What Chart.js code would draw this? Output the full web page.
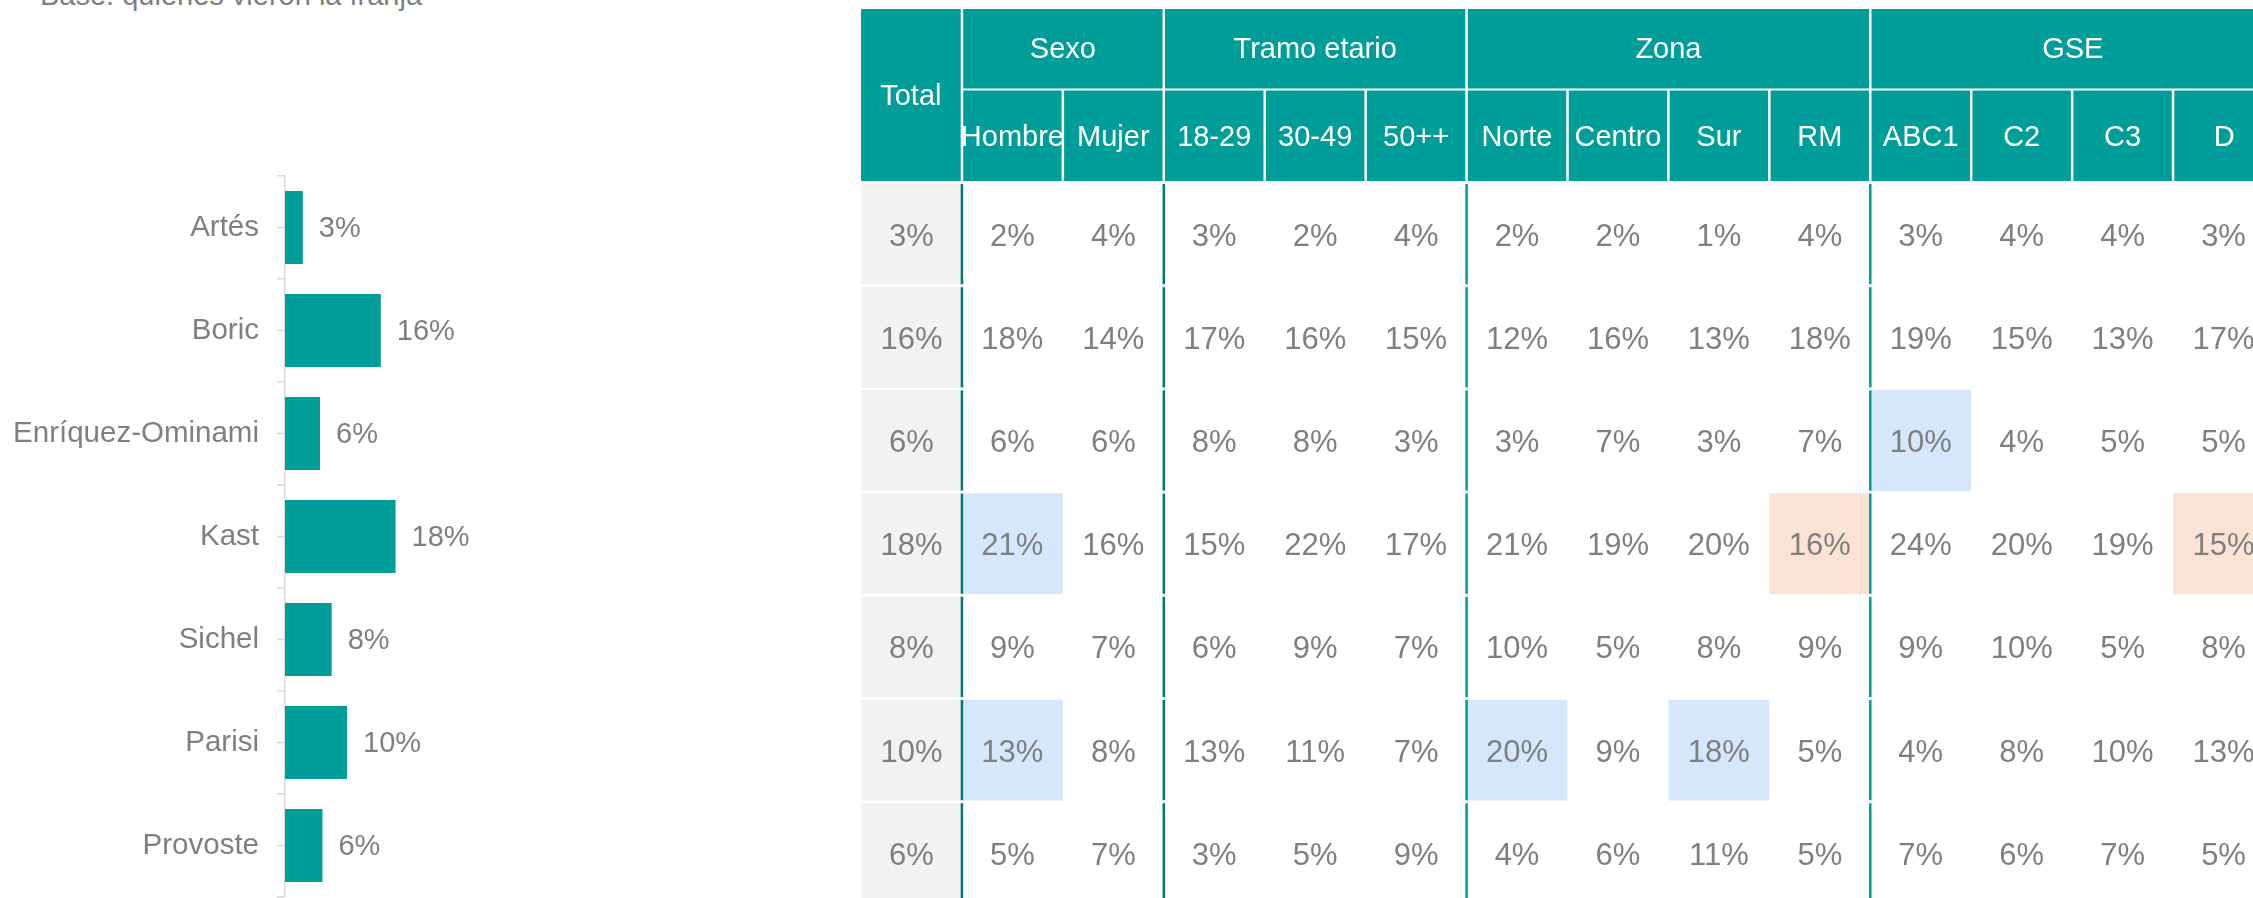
<!DOCTYPE html>
<html><head><meta charset="utf-8">
<script src="https://cdn.jsdelivr.net/npm/chart.js@4.4.1/dist/chart.umd.min.js"></script>
<style>
html,body{margin:0;padding:0;background:#fff;width:2253px;height:898px;overflow:hidden;position:relative;}
#sub{position:absolute;left:40px;top:-19.5px;font:29px "Liberation Sans",Arial,sans-serif;line-height:29px;color:#7F7F7F;white-space:nowrap;}
#bars{position:absolute;left:0;top:0;}
#table{position:absolute;left:850px;top:0;}
</style></head><body>
<div id="sub">Base: quienes vieron la franja</div>
<canvas id="bars" width="850" height="898"></canvas>
<canvas id="table" width="1435" height="910"></canvas>
<script>
// ---------- DATA ----------
const candidates = ['Artés', 'Boric', 'Enríquez-Ominami', 'Kast', 'Sichel', 'Parisi', 'Provoste'];
const totalShare = [2.9, 15.6, 5.7, 18.0, 7.6, 10.1, 6.1];

const sexo  = ['Hombre', 'Mujer'];
const tramo = ['18-29', '30-49', '50++'];
const zona  = ['Norte', 'Centro', 'Sur', 'RM'];
const gse   = ['ABC1', 'C2', 'C3', 'D'];
const groupNames = ['Sexo', 'Tramo etario', 'Zona', 'GSE'];
const groupCols  = [sexo, tramo, zona, gse];
const columns = ['Total', ...sexo, ...tramo, ...zona, ...gse];

//               Tot Hom Muj 18  30  50  Nor Cen Sur RM ABC1 C2 C3  D
const artes    = [3,  2,  4,  3,  2,  4,  2,  2,  1,  4,  3,  4,  4,  3];
const boric    = [16, 18, 14, 17, 16, 15, 12, 16, 13, 18, 19, 15, 13, 17];
const enriquez = [6,  6,  6,  8,  8,  3,  3,  7,  3,  7,  10, 4,  5,  5];
const kast     = [18, 21, 16, 15, 22, 17, 21, 19, 20, 16, 24, 20, 19, 15];
const sichel   = [8,  9,  7,  6,  9,  7,  10, 5,  8,  9,  9,  10, 5,  8];
const parisi   = [10, 13, 8,  13, 11, 7,  20, 9,  18, 5,  4,  8,  10, 13];
const provoste = [6,  5,  7,  3,  5,  9,  4,  6,  11, 5,  7,  6,  7,  5];
const tableRows = [artes, boric, enriquez, kast, sichel, parisi, provoste];

// significantly higher / lower than total
const higher = [['Enríquez-Ominami','ABC1'], ['Kast','Hombre'], ['Parisi','Hombre'], ['Parisi','Norte'], ['Parisi','Sur']];
const lower  = [['Kast','RM'], ['Kast','D']];

// ---------- STYLE ----------
const FONT = '"Liberation Sans", Arial, sans-serif';
const TEAL = '#009D99';
const TEAL_DARK = '#00787A';
const GRAY_TXT = '#7F7F7F';
const BLUE = '#D6E6FB';
const ORANGE = '#FAE3D4';
const TOTAL_BG = '#F2F2F2';
Chart.defaults.font.family = FONT;

// ---------- BAR CHART ----------
const valueLabels = {
  id: 'valueLabels',
  afterDatasetsDraw(chart) {
    const ctx = chart.ctx;
    const meta = chart.getDatasetMeta(0);
    ctx.save();
    ctx.font = '29px ' + FONT;
    ctx.fillStyle = GRAY_TXT;
    ctx.textAlign = 'left';
    ctx.textBaseline = 'middle';
    meta.data.forEach((el, i) => {
      ctx.fillText(Math.round(totalShare[i]) + '%', el.x + 16, el.y + 1);
    });
    ctx.restore();
  }
};
const centerTicks = {
  id: 'centerTicks',
  afterDraw(chart) {
    const ys = chart.scales.y;
    const ctx = chart.ctx;
    ctx.save();
    ctx.strokeStyle = '#D9D9D9';
    ctx.lineWidth = 1.5;
    ys.ticks.forEach((t, i) => {
      const y = ys.getPixelForTick(i);
      ctx.beginPath();
      ctx.moveTo(ys.right - 8, y);
      ctx.lineTo(ys.right, y);
      ctx.stroke();
    });
    ctx.restore();
  }
};

new Chart(document.getElementById('bars'), {
  type: 'bar',
  data: {
    labels: candidates,
    datasets: [{ data: totalShare, backgroundColor: TEAL, barPercentage: 0.71, categoryPercentage: 1, borderWidth: 0 }]
  },
  options: {
    indexAxis: 'y', responsive: false, animation: false, devicePixelRatio: 1,
    layout: { padding: { top: 176, bottom: 1, left: 0, right: 0 } },
    plugins: { legend: { display: false }, tooltip: { enabled: false } },
    scales: {
      x: { display: false, min: 0, max: 92 },
      y: {
        grid: { offset: true, drawOnChartArea: false, tickLength: 8, color: '#D9D9D9', lineWidth: 1.5 },
        border: { color: '#D9D9D9', width: 1.5 },
        ticks: { color: GRAY_TXT, font: { size: 29.5 }, padding: 18 },
        afterFit: s => { s.width = 285; s.paddingTop = 0; s.paddingBottom = 0; }
      }
    }
  },
  plugins: [valueLabels, centerTicks]
});

// ---------- TABLE CHART ----------
function cellColor(r, c) {
  const name = candidates[r], col = columns[c];
  if (higher.some(h => h[0] === name && h[1] === col)) return BLUE;
  if (lower.some(h => h[0] === name && h[1] === col)) return ORANGE;
  if (c === 0) return TOTAL_BG;
  return 'rgba(255,255,255,0)';
}
const tableDatasets = tableRows.map((vals, r) => ({
  label: candidates[r],
  data: columns.map(() => [r, r + 1]),
  backgroundColor: columns.map((_, c) => cellColor(r, c)),
  borderColor: '#FFFFFF',
  borderWidth: { top: 1.5, bottom: 1.5, left: 0, right: 0 },
  borderSkipped: false,
  grouped: false,
  barPercentage: 1,
  categoryPercentage: 1
}));

function colEdge(chart, i) {
  const xs = chart.scales.x;
  if (i <= 0) return chart.chartArea.left;
  if (i >= columns.length) return chart.chartArea.right;
  return (xs.getPixelForValue(i - 1) + xs.getPixelForValue(i)) / 2;
}

const tablePlugin = {
  id: 'tablePlugin',
  afterDatasetsDraw(chart) {
    const ctx = chart.ctx;
    const ys = chart.scales.y;
    const n = columns.length;
    const g = 1.25;
    ctx.save();
    ctx.font = '31px ' + FONT;
    ctx.fillStyle = GRAY_TXT;
    ctx.textAlign = 'center';
    ctx.textBaseline = 'middle';
    tableRows.forEach((vals, r) => {
      const meta = chart.getDatasetMeta(r);
      meta.data.forEach((el, j) => {
        const cy = (el.y + el.base) / 2;
        ctx.fillText(vals[j] + '%', el.x, cy + 3);
      });
    });
    let start = 1;
    groupCols.forEach((cols, gi) => {
      const x = colEdge(chart, start);
      ctx.fillStyle = gi < 2 ? TEAL_DARK : TEAL;
      tableRows.forEach((_, r) => {
        const top = ys.getPixelForValue(r) + 1.5;
        const bot = ys.getPixelForValue(r + 1) - 1.5;
        ctx.fillRect(x - 1.25, top, 2.5, bot - top);
      });
      start += cols.length;
    });
    const hTop = 9, h1Bot = 88.5, h2Top = 90.5, hBot = 181;
    ctx.fillStyle = TEAL;
    const tx0 = colEdge(chart, 0), tx1 = colEdge(chart, 1) - g;
    ctx.fillRect(tx0, hTop, tx1 - tx0, hBot - hTop);
    ctx.font = '29px ' + FONT;
    ctx.fillStyle = '#FFFFFF';
    ctx.fillText(columns[0], (tx0 + tx1) / 2, (hTop + hBot) / 2 + 1.5);
    start = 1;
    groupCols.forEach((cols, gi) => {
      const end = start + cols.length;
      const x0 = colEdge(chart, start) + g;
      const x1 = colEdge(chart, end) - (end >= n ? 0 : g);
      ctx.fillStyle = TEAL;
      ctx.fillRect(x0, hTop, x1 - x0, h1Bot - hTop);
      ctx.fillStyle = '#FFFFFF';
      ctx.fillText(groupNames[gi], (x0 + x1) / 2, (hTop + h1Bot) / 2 + 1);
      start = end;
    });
    for (let c = 1; c < n; c++) {
      const x0 = colEdge(chart, c) + g;
      const x1 = colEdge(chart, c + 1) - (c + 1 >= n ? 0 : g);
      ctx.fillStyle = TEAL;
      ctx.fillRect(x0, h2Top, x1 - x0, hBot - h2Top);
      ctx.fillStyle = '#FFFFFF';
      ctx.fillText(columns[c], (x0 + x1) / 2, (h2Top + hBot) / 2 + 2);
    }
    ctx.restore();
  }
};

new Chart(document.getElementById('table'), {
  type: 'bar',
  data: { labels: columns, datasets: tableDatasets },
  options: {
    responsive: false, animation: false, devicePixelRatio: 1,
    layout: { padding: { top: 182.5, bottom: 5.1, left: 11, right: 11 } },
    plugins: { legend: { display: false }, tooltip: { enabled: false } },
    scales: {
      x: { type: 'category', display: false, offset: true },
      y: { type: 'linear', display: false, min: 0, max: 7, reverse: true }
    }
  },
  plugins: [tablePlugin]
});
</script>
</body></html>
